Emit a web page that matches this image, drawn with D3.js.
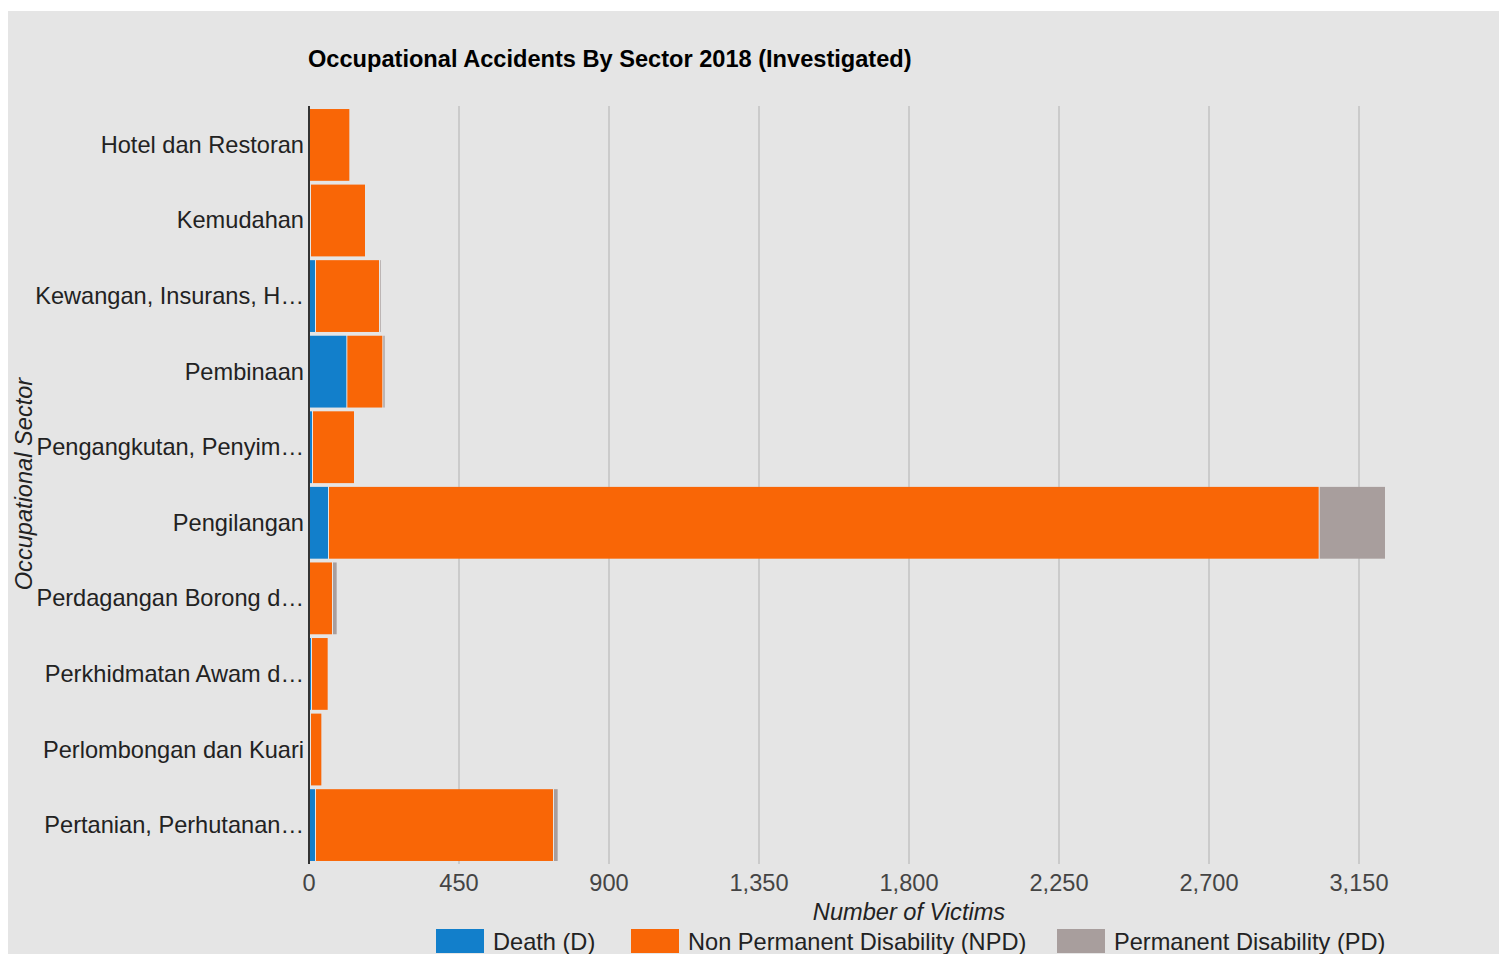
<!DOCTYPE html>
<head>
    <meta charset="utf-8">
    <title>Occupational Accidents By Sector 2018</title>
    <script type="text/javascript" src="https://d3js.org/d3.v7.min.js"></script>
    <style>
        body { margin: 0; background: #fff; font-family: "Liberation Sans", Arial, sans-serif; }
    </style>
</head>
<body>
<div id="container"></div>

<script>
    //------------------------1. DATA------------------------//
    const sectors = [
        "Hotel dan Restoran",
        "Kemudahan",
        "Kewangan, Insurans, H\u2026",
        "Pembinaan",
        "Pengangkutan, Penyim\u2026",
        "Pengilangan",
        "Perdagangan Borong d\u2026",
        "Perkhidmatan Awam d\u2026",
        "Perlombongan dan Kuari",
        "Pertanian, Perhutanan\u2026"
    ];
    const death = [0, 3, 18, 112, 9, 57, 0, 6, 3, 18];
    const npd   = [121, 165, 192, 108, 126, 2972, 69, 50, 34, 714];
    const pd    = [3, 3, 5, 7, 3, 199, 14, 3, 2, 14];
    const seriesNames = ["Death (D)", "Non Permanent Disability (NPD)", "Permanent Disability (PD)"];
    const xTicks = [0, 450, 900, 1350, 1800, 2250, 2700, 3150];

    //------------------------2. SETUP------------------------//
    const width = 1499;
    const height = 954;
    const colors = ["#127fcb", "#f96606", "#a89e9d"];
    const plot = { left: 309, right: 1409, top: 106, bottom: 864 };
    const fontSize = "23.6px";

    const svg = d3.select("#container").append("svg")
        .attr("width", width)
        .attr("height", height);

    svg.append("rect")
        .attr("x", 8).attr("y", 11)
        .attr("width", width - 8).attr("height", height - 11)
        .attr("fill", "#e5e5e5");

    const rows = sectors.map(function(s, i) {
        return { sector: s, "Death (D)": death[i],
                 "Non Permanent Disability (NPD)": npd[i],
                 "Permanent Disability (PD)": pd[i] };
    });
    const stacked = d3.stack().keys(seriesNames)(rows);

    //------------------------SCALES------------------------//
    const xScale = d3.scaleLinear().domain([0, 3300]).range([plot.left, plot.right]);
    const yScale = d3.scaleBand().domain(sectors)
        .range([plot.top, plot.bottom])
        .paddingInner(0.05).paddingOuter(0.04);

    //------------------------GRID------------------------//
    svg.append("g")
        .selectAll("line")
        .data(xTicks.slice(1))
        .enter().append("line")
        .attr("x1", d => xScale(d)).attr("x2", d => xScale(d))
        .attr("y1", plot.top).attr("y2", plot.bottom)
        .attr("stroke", "#cbcbcb")
        .attr("stroke-width", 2);

    //------------------------BARS------------------------//
    const layers = svg.append("g")
        .selectAll("g")
        .data(stacked)
        .enter().append("g")
        .attr("fill", (d, i) => colors[i]);

    layers.selectAll("rect")
        .data(d => d.map(v => ({ v: v, key: d.key, idx: d.index })))
        .enter().append("rect")
        .attr("x", d => xScale(d.v[0]) + (d.idx > 0 && d.v[0] > 0 ? 1 : 0))
        .attr("y", d => yScale(d.v.data.sector))
        .attr("height", yScale.bandwidth())
        .attr("width", function(d) {
            const gap = (d.idx > 0 && d.v[0] > 0) ? 1 : 0;
            return Math.max(0, xScale(d.v[1]) - xScale(d.v[0]) - gap);
        });

    //------------------------AXES------------------------//
    svg.append("line")
        .attr("x1", plot.left).attr("x2", plot.left)
        .attr("y1", plot.top).attr("y2", plot.bottom)
        .attr("stroke", "#333")
        .attr("stroke-width", 2);

    svg.append("g")
        .selectAll("text")
        .data(xTicks)
        .enter().append("text")
        .attr("x", d => xScale(d))
        .attr("y", 891)
        .attr("text-anchor", "middle")
        .style("font-size", fontSize)
        .attr("fill", "#444")
        .text(d => d3.format(",")(d));

    svg.append("g")
        .selectAll("text")
        .data(sectors)
        .enter().append("text")
        .attr("x", 304)
        .attr("y", d => yScale(d) + yScale.bandwidth() / 2 + 8)
        .attr("text-anchor", "end")
        .style("font-size", fontSize)
        .attr("fill", "#222")
        .text(d => d);

    // titles
    svg.append("text")
        .attr("x", 308).attr("y", 67)
        .style("font-size", fontSize)
        .style("font-weight", "bold")
        .attr("fill", "#000")
        .text("Occupational Accidents By Sector 2018 (Investigated)");

    svg.append("text")
        .attr("x", 909).attr("y", 920)
        .attr("text-anchor", "middle")
        .style("font-size", fontSize)
        .style("font-style", "italic")
        .attr("fill", "#222")
        .text("Number of Victims");

    svg.append("text")
        .attr("transform", "translate(32,484) rotate(-90)")
        .attr("text-anchor", "middle")
        .style("font-size", fontSize)
        .style("font-style", "italic")
        .attr("fill", "#222")
        .text("Occupational Sector");

    //------------------------LEGEND------------------------//
    const legendX = [436, 631, 1057];
    const legend = svg.append("g")
        .selectAll("g")
        .data(seriesNames)
        .enter().append("g")
        .attr("transform", (d, i) => "translate(" + legendX[i] + ",929)");

    legend.append("rect")
        .attr("width", 48).attr("height", 24)
        .attr("fill", (d, i) => colors[i]);

    legend.append("text")
        .attr("x", 57).attr("y", 21)
        .style("font-size", fontSize)
        .attr("fill", "#222")
        .text(d => d);
</script>
</body>
